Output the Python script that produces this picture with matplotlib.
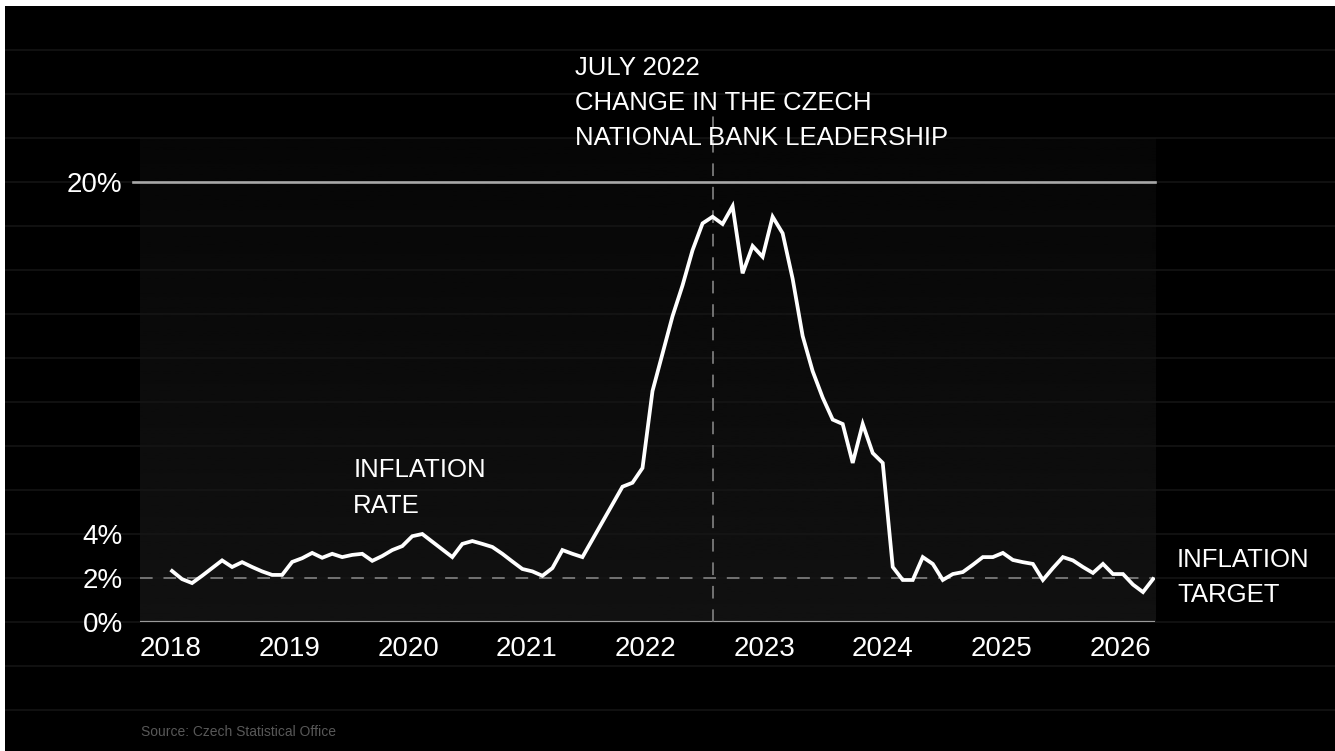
import numpy as np
import matplotlib.pyplot as plt
from matplotlib.patches import Rectangle

# monthly inflation, Jan 2018 .. Mar 2026 (in %)
infl_2018 = [2.32, 1.95, 1.77, 2.1, 2.45, 2.8, 2.5, 2.72, 2.5, 2.3, 2.14, 2.14]
infl_2019 = [2.73, 2.9, 3.14, 2.92, 3.1, 2.95, 3.05, 3.1, 2.78, 3.0, 3.27, 3.45]
infl_2020 = [3.9, 4.0, 3.65, 3.3, 2.95, 3.55, 3.68, 3.55, 3.41, 3.1, 2.75, 2.41]
infl_2021 = [2.3, 2.1, 2.45, 3.27, 3.1, 2.95, 3.75, 4.55, 5.35, 6.15, 6.33, 7.0]
infl_2022 = [10.5, 12.2, 13.9, 15.3, 16.9, 18.12, 18.42, 18.09, 18.9, 15.85, 17.09, 16.6]
infl_2023 = [18.42, 17.67, 15.6, 13.0, 11.4, 10.2, 9.2, 9.0, 7.23, 9.0, 7.68, 7.23]
infl_2024 = [2.5, 1.91, 1.91, 2.95, 2.64, 1.91, 2.18, 2.27, 2.6, 2.95, 2.95, 3.14]
infl_2025 = [2.82, 2.72, 2.64, 1.91, 2.45, 2.95, 2.8, 2.5, 2.23, 2.64, 2.18, 2.18]
infl_2026 = [1.7, 1.36, 1.95]

inflation = (infl_2018 + infl_2019 + infl_2020 + infl_2021 + infl_2022
             + infl_2023 + infl_2024 + infl_2025 + infl_2026)
months = np.arange(len(inflation))  # 0 = Jan 2018

years = ['2018', '2019', '2020', '2021', '2022', '2023', '2024', '2025', '2026']
ytick_vals = [0, 2, 4, 20]
ytick_labels = ['0%', '2%', '4%', '20%']
target = 2
event_month = 54  # July 2022

BG = '#000000'
plt.rcParams['font.family'] = ['Liberation Sans', 'DejaVu Sans']

fig = plt.figure(figsize=(13.35, 7.51), dpi=100, facecolor=BG)
ax = fig.add_axes([0.10487, 0.17177, 0.76030, 0.64448])
ax.set_facecolor(BG)
ax.set_xlim(-3.2, 98.2)
ax.set_ylim(0, 22)

# dark gradient panel
grad = np.linspace(0.025, 0.068, 256).reshape(-1, 1)
ax.imshow(grad, extent=[-3.2, 98.2, 0, 22], origin='upper', aspect='auto',
          cmap='gray', vmin=0, vmax=1, zorder=0)

# faint guide lines running across the whole figure
ax.hlines(np.arange(-4, 27, 2), -1, 2, transform=ax.get_yaxis_transform(),
          colors='#161616', linewidth=1.1, clip_on=False, zorder=1)

ax.axhline(20, xmin=-0.007, xmax=1, color='#a8a8a8', linewidth=1.9,
           clip_on=False, zorder=2)
ax.axhline(0, color='#9a9a9a', linewidth=2.3, zorder=2)
ax.axhline(target, color='#7a7a7a', linewidth=1.3, dashes=(7, 6), zorder=2)
ax.axvline(event_month, ymax=23.1 / 22, color='#7a7a7a', linewidth=1.3,
           dashes=(7, 6), clip_on=False, zorder=2)

ax.plot(months, inflation, color='white', linewidth=2.7,
        solid_joinstyle='miter', zorder=3)

for s in ax.spines.values():
    s.set_visible(False)

ax.set_xticks(np.linspace(-0.1, 94.7, len(years)))
ax.set_xticklabels(years)
ax.set_yticks(ytick_vals)
ax.set_yticklabels(ytick_labels)
ax.tick_params(axis='x', length=0, pad=10, labelsize=20, labelcolor='white')
ax.tick_params(axis='y', length=0, pad=12.5, labelsize=20, labelcolor='white')

txt = dict(color='white', fontsize=18.5, va='center', ha='left', clip_on=False)
for y, line in zip([25.18, 23.57, 22.0],
                   ['JULY 2022', 'CHANGE IN THE CZECH', 'NATIONAL BANK LEADERSHIP']):
    ax.text(40.26, y, line, **txt)
for y, line in zip([6.89, 5.25], ['INFLATION', 'RATE']):
    ax.text(18.1, y, line, **txt)
for y, line in zip([2.8, 1.25], ['INFLATION', 'TARGET']):
    ax.text(100.4, y, line, **txt)

fig.text(141 / 1335, 1 - 732 / 751, 'Source: Czech Statistical Office',
         color='#585858', fontsize=10, va='center', ha='left')

# thin white border along top and left edge
fig.patches.append(Rectangle((0, 1 - 6 / 751), 1, 6 / 751, transform=fig.transFigure,
                             facecolor='white', edgecolor='none', zorder=10))
fig.patches.append(Rectangle((0, 0), 5 / 1335, 1, transform=fig.transFigure,
                             facecolor='white', edgecolor='none', zorder=10))

fig.savefig('out.png', dpi=100, facecolor=BG)
